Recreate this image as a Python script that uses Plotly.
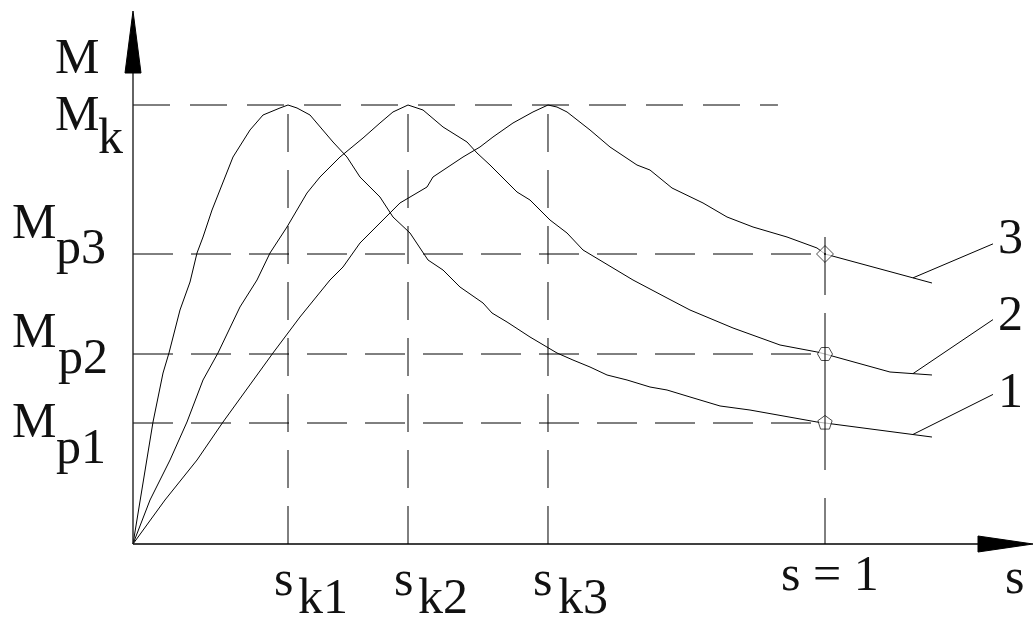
import plotly.graph_objects as go

# ---------------- data (s in units of slip, M in units of Mk) ----------------
curve1_s = [0, 0.0101, 0.0202, 0.0289, 0.0434, 0.0520, 0.0679, 0.0824, 0.0925, 0.1012, 0.1142,
            0.1257, 0.1445, 0.1691, 0.1879, 0.2124, 0.2240, 0.2370, 0.2558, 0.2890, 0.3092,
            0.3280, 0.3569, 0.3757, 0.4003, 0.4263, 0.4480, 0.4725, 0.5058, 0.5188, 0.5405,
            0.5737, 0.5983, 0.6127, 0.6358, 0.6604, 0.6850, 0.7139, 0.7471, 0.7717, 0.8049,
            0.8483, 0.8916, 0.9451, 0.9884, 1.0, 1.0795, 1.1546]
curve1_m = [0, 0.1002, 0.1913, 0.2779, 0.3895, 0.4351, 0.5330, 0.5968, 0.6629, 0.6993, 0.7608,
            0.8064, 0.8815, 0.9431, 0.9772, 0.9932, 1.0, 0.9932, 0.9772, 0.9157, 0.8815,
            0.8360, 0.7904, 0.7449, 0.7084, 0.6469, 0.6241, 0.5854, 0.5490, 0.5262, 0.5057,
            0.4715, 0.4487, 0.4351, 0.4191, 0.4032, 0.3850, 0.3736, 0.3576, 0.3508, 0.3349,
            0.3144, 0.3052, 0.2893, 0.2779, 0.2756, 0.2597, 0.2437]

curve2_s = [0, 0.0246, 0.0535, 0.0780, 0.1012, 0.1228, 0.1546, 0.1792, 0.1980, 0.2225, 0.2514,
            0.2702, 0.2991, 0.3324, 0.3569, 0.3757, 0.3974, 0.4191, 0.4480, 0.4827, 0.4971,
            0.5159, 0.5549, 0.5737, 0.6026, 0.6272, 0.6503, 0.7225, 0.7717, 0.8049, 0.8671,
            0.9350, 0.9884, 1.0, 1.0939, 1.1546]
curve2_m = [0, 0.1002, 0.1913, 0.2779, 0.3736, 0.4351, 0.5399, 0.6014, 0.6629, 0.7221, 0.7995,
            0.8360, 0.8815, 0.9248, 0.9590, 0.9841, 1.0, 0.9886, 0.9499, 0.9157, 0.8907,
            0.8633, 0.8018, 0.7836, 0.7380, 0.7084, 0.6697, 0.6014, 0.5604, 0.5330, 0.4920,
            0.4533, 0.4374, 0.4328, 0.3918, 0.3850]

curve3_s = [0, 0.0462, 0.0925, 0.1301, 0.2023, 0.2413, 0.2847, 0.3035, 0.3280, 0.3569, 0.3858,
            0.4249, 0.4335, 0.4769, 0.5014, 0.5202, 0.5491, 0.5780, 0.5997, 0.6127, 0.6272,
            0.6604, 0.6893, 0.7283, 0.7471, 0.7789, 0.8237, 0.8584, 0.8960, 0.9451, 0.9884,
            1.0, 1.1546]
curve3_m = [0, 0.1002, 0.1913, 0.2779, 0.4351, 0.5171, 0.6014, 0.6310, 0.6856, 0.7312, 0.7768,
            0.8132, 0.8360, 0.8815, 0.9043, 0.9271, 0.9590, 0.9841, 1.0, 0.9954, 0.9841,
            0.9431, 0.9043, 0.8633, 0.8519, 0.8109, 0.7768, 0.7449, 0.7221, 0.6993, 0.6743,
            0.6606, 0.5945]

s_crit = [0.224, 0.3974, 0.5997]          # s_k1, s_k2, s_k3
m_start = [0.2756, 0.4328, 0.6606]         # Mp1, Mp2, Mp3
m_k = 1.0
s_nominal = 1.0
curve_labels = ["1", "2", "3"]
marker_symbols = ["pentagon", "hexagon2", "diamond"]

# ---------------- geometry of the canvas ----------------
W, H = 1034, 624
X0_PX, Y0_PX = 133, 544          # origin in pixels
SX, SY = 692.0, 439.0            # pixels per unit
x_range = [-X0_PX / SX, (W - X0_PX) / SX]
y_range = [-(H - Y0_PX) / SY, Y0_PX / SY]

def dx(px):
    return px / SX

def dy(px):
    return px / SY

fig = go.Figure()

# ---------------- guide lines (dashed) ----------------
shapes = []
# Mk horizontal
shapes.append(dict(type="line", xref="x", yref="y", x0=0, x1=0.932, y0=m_k, y1=m_k,
                   line=dict(color="black", width=1, dash="37px,20px")))
# Mp horizontals
for m in m_start:
    shapes.append(dict(type="line", xref="x", yref="y", x0=0, x1=s_nominal, y0=m, y1=m,
                       line=dict(color="black", width=1, dash="40px,18px")))
# s_k verticals (drawn bottom -> top)
for s in s_crit:
    shapes.append(dict(type="line", xref="x", yref="y", x0=s, x1=s, y0=0, y1=m_k,
                       line=dict(color="black", width=1, dash="38px,18px")))
# s = 1 vertical
shapes.append(dict(type="line", xref="x", yref="y", x0=s_nominal, x1=s_nominal, y0=0,
                   y1=m_start[2] + dy(17),
                   line=dict(color="black", width=1, dash="46px,28px,157px,18px,60px,40px")))

# ---------------- axes with arrows ----------------
x_tip = (W - 1 - X0_PX) / SX
x_base = x_tip - dx(55)
y_tip = (Y0_PX - 11) / SY
y_base = y_tip - dy(62)
shapes.append(dict(type="line", xref="x", yref="y", x0=0, x1=x_base, y0=0, y1=0,
                   line=dict(color="black", width=1.6)))
shapes.append(dict(type="line", xref="x", yref="y", x0=0, x1=0, y0=0, y1=y_base,
                   line=dict(color="#222", width=1.4)))
shapes.append(dict(type="path", xref="x", yref="y",
                   path=f"M {x_base},{dy(8)} L {x_tip},0 L {x_base},{-dy(8)} Z",
                   fillcolor="black", line=dict(color="black", width=1)))
shapes.append(dict(type="path", xref="x", yref="y",
                   path=f"M {-dx(8)},{y_base} L 0,{y_tip} L {dx(8)},{y_base} Z",
                   fillcolor="black", line=dict(color="black", width=1)))

# ---------------- curves ----------------
curves = [(curve1_s, curve1_m), (curve2_s, curve2_m), (curve3_s, curve3_m)]
for xs, ys in curves:
    fig.add_trace(go.Scatter(x=xs, y=ys, mode="lines", line=dict(color="black", width=1),
                             hoverinfo="skip", showlegend=False))

# leader lines for curve numbers
for i, (xs, ys) in enumerate(curves):
    xe, ye = xs[-1], ys[-1]
    lead_start_x = xe - dx(19)
    t = (lead_start_x - xs[-2]) / (xe - xs[-2])
    lead_start_y = ys[-2] + t * (ye - ys[-2])
    rise = [dy(40), dy(54), dy(34)][i]
    shapes.append(dict(type="line", xref="x", yref="y", x0=lead_start_x, y0=lead_start_y,
                       x1=lead_start_x + dx(80), y1=lead_start_y + rise,
                       line=dict(color="black", width=1)))

# markers at s = 1
fig.add_trace(go.Scatter(x=[s_nominal] * 3, y=m_start, mode="markers",
                         marker=dict(symbol=marker_symbols, size=[15, 15, 13], color="white",
                                     line=dict(color="black", width=1)),
                         hoverinfo="skip", showlegend=False))
fig.add_trace(go.Scatter(x=[s_nominal], y=[m_start[2]], mode="markers",
                         marker=dict(symbol="circle", size=2, color="black"),
                         hoverinfo="skip", showlegend=False))

# ---------------- text ----------------
FS = 50
FONT = dict(family="Liberation Serif, serif", size=FS, color="#111")
annotations = []

def txt(text, px, base_py, anchor="center"):
    cy = base_py - 0.3375 * FS
    annotations.append(dict(text=text, xref="paper", yref="paper",
                            x=px / W, y=1 - cy / H, xanchor=anchor, yanchor="middle",
                            showarrow=False, font=FONT, borderpad=0))

txt("M", 77, 73)
txt("M", 77, 130); txt("k", 97, 153, "left")
txt("M", 34, 238); txt("p3", 55, 263, "left")
txt("M", 34, 347); txt("p2", 57, 373, "left")
txt("M", 34, 437); txt("p1", 55, 463, "left")
for s, sub in zip(s_crit, ["k1", "k2", "k3"]):
    cx = X0_PX + s * SX
    txt("s", cx - 5, 595)
    txt(sub, cx + 9, 613, "left")
txt("s = 1", 780, 590, "left")
txt("s", 1014, 593)
for lab, base in zip(curve_labels, [407, 330, 253]):
    txt(lab, 1010, base)

fig.update_layout(
    width=W, height=H, autosize=False,
    margin=dict(l=0, r=0, t=0, b=0),
    paper_bgcolor="white", plot_bgcolor="white",
    xaxis=dict(range=x_range, visible=False, fixedrange=True),
    yaxis=dict(range=y_range, visible=False, fixedrange=True),
    shapes=shapes, annotations=annotations, showlegend=False,
)

fig.write_html("out.html", config={"displayModeBar": False},
               post_script="document.body.style.margin='0';document.body.style.overflow='hidden';")
